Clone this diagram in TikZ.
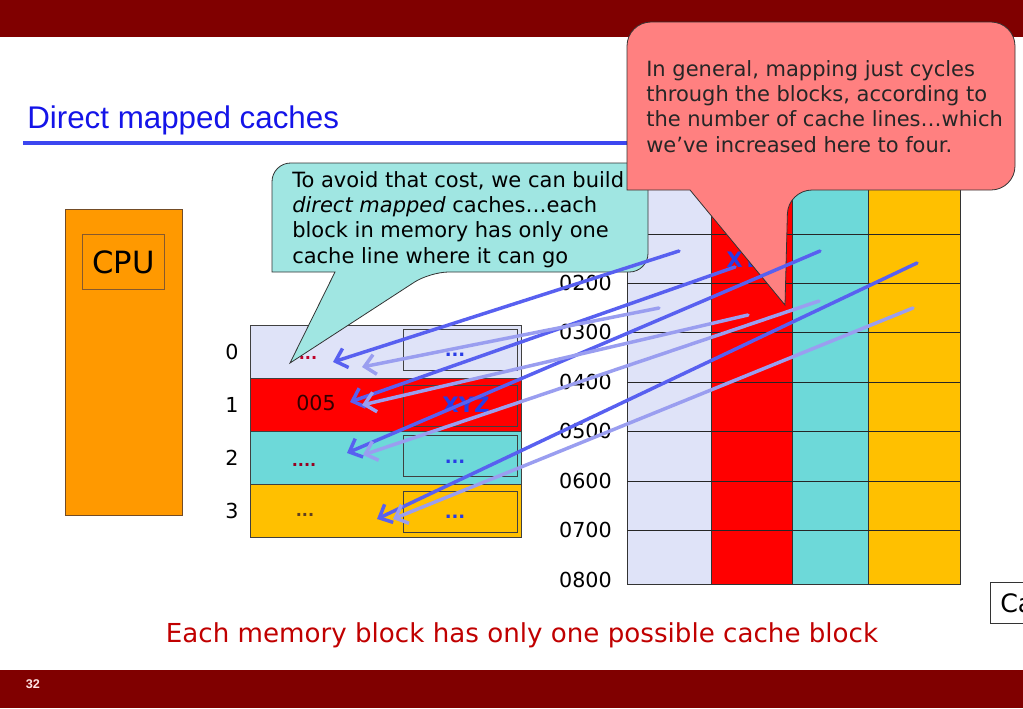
\documentclass[tikz,border=0pt]{standalone}
\usepackage{fontspec}
\setmainfont{DejaVu Sans}
\newfontfamily\titlefont{Liberation Sans}
\usetikzlibrary{arrows.meta}
\definecolor{barred}{RGB}{128,0,0}
\definecolor{titleblue}{RGB}{20,20,232}
\definecolor{lineblue}{RGB}{60,70,240}
\definecolor{lav}{RGB}{223,227,248}
\definecolor{cyanrow}{RGB}{109,217,217}
\definecolor{gold}{RGB}{255,192,0}
\definecolor{cpuorange}{RGB}{255,153,0}
\definecolor{callteal}{RGB}{160,230,226}
\definecolor{callpink}{RGB}{255,128,128}
\definecolor{darkarrow}{RGB}{88,96,240}
\definecolor{lightarrow}{RGB}{154,158,240}
\definecolor{dotblue}{RGB}{40,60,230}
\definecolor{dotred}{RGB}{190,0,40}
\definecolor{capred}{RGB}{192,0,0}
\begin{document}
\begin{tikzpicture}[x=0.75pt,y=-0.75pt]
	% Styles
	\tikzset{
		lbl/.style={font=\fontsize{15.5}{18}\selectfont, inner sep=0pt},
		bluedots/.style={font=\bfseries\fontsize{13.5}{15}\selectfont, text=dotblue, inner sep=0pt},
		bluebig/.style={bluedots, font=\bfseries\fontsize{16}{18}\selectfont},
		reddots/.style={font=\bfseries\fontsize{12}{14}\selectfont, inner sep=0pt},
		darkarr/.style={draw=darkarrow, line width=2.6pt, line cap=round, -{Straight Barb[length=8pt,width=15pt]}},
		lightarr/.style={darkarr, draw=lightarrow},
		calltext/.style={font=\fontsize{15.75}{19}\selectfont, align=left, inner sep=0pt, anchor=north west}
	}
	\useasboundingbox (0,0) rectangle (1023,708);
	\clip (0,0) rectangle (1023,708);

	% Draw the bars
	\fill[barred] (0,0) rectangle (1023,37);
	\fill[barred] (0,670) rectangle (1023,708);
	\node[font=\titlefont\bfseries\fontsize{9.5}{11}\selectfont, text=white!90!red] (pagenum) at (33,684) {32};

	% Title
	\node[anchor=base west, inner sep=0pt, font=\titlefont\fontsize{23.5}{28}\selectfont, text=titleblue] (title) at (27,128) {Direct mapped caches};
	\draw[lineblue, line width=2.3pt] (23,143) -- (1000,143);

	% CPU
	\filldraw[fill=cpuorange, draw=brown!60!black, line width=0.6pt] (65,209) rectangle (182,515);
	\node[draw=brown!70!black, line width=0.6pt, minimum width=62pt, minimum height=41pt, font=\fontsize{23}{27}\selectfont] (cpu) at (123.5,262) {CPU};

	% Cache lines
	\foreach \i/\col/\by in {0/lav/329,1/red/385,2/cyanrow/435,3/gold/491}{
		\filldraw[fill=\col, draw=black!75, line width=0.6pt] (250,325+53*\i) rectangle (521,378+53*\i);
		\draw[black!75, line width=0.6pt] (403,\by) rectangle (517,\by+41);
		\node[lbl] (idx\i) at (232,352+53*\i) {\i};
	}
	\node[reddots, text=dotred] (tag0) at (308,358) {...};
	\node[lbl, text=black!80!red] (tag1) at (316,403) {005};
	\node[reddots, text=dotred!80!black] (tag2) at (304,465) {....};
	\node[reddots, text=brown!50!black] (tag3) at (305,515) {...};
	\node[bluedots] (data0) at (455,355) {...};
	\node[bluebig] (data1) at (466,405) {XYZ};
	\node[bluedots] (data2) at (455,462) {...};
	\node[bluedots] (data3) at (455,517) {...};

	% Memory
	\foreach \x/\w/\col in {627/84/lav,711/81/red,792/76/cyanrow,868/92/gold}
		\filldraw[fill=\col, draw=black!80, line width=0.6pt] (\x,185) rectangle (\x+\w,584);
	\foreach \y in {234,283,332,382,431,481,530}
		\draw[black!85, line width=0.6pt] (627,\y) -- (960,\y);
	\foreach \n/\y in {0200/283,0300/332,0400/382,0500/431,0600/481,0700/530,0800/580}
		\node[lbl, anchor=east] (addr\n) at (612,\y) {\n};
	\node[bluebig] (memxyz) at (750,260) {XYZ};

	% Callouts
	\filldraw[fill=callteal, draw=black!80, line width=0.6pt] (382,163) [rounded corners=14] -- (648,163) -- (648,272) -- (430,272)
		[sharp corners] -- (290,363) -- (335,272) -- (272,272) [rounded corners=14] -- (272,163) -- cycle;
	\node[calltext] (tealnote) at (292,171) {To avoid that cost, we can build\\\textit{direct mapped} caches…each\\block in memory has only one\\cache line where it can go};
	\filldraw[fill=callpink, draw=black!80, line width=0.6pt] (820,22) [rounded corners=18] -- (1015,22) -- (1015,190) -- (788,190)
		[sharp corners] -- (785,305) -- (690,190) -- (627,190) [rounded corners=18] -- (627,22) -- cycle;
	\node[calltext, text=black!85] (pinknote) at (646,60) {In general, mapping just cycles\\through the blocks, according to\\the number of cache lines…which\\we’ve increased here to four.};

	% Mapping arrows
	\coordinate (srcd0) at (679,251); \coordinate (dstd0) at (333,362);
	\coordinate (srcd1) at (735,267); \coordinate (dstd1) at (350,402);
	\coordinate (srcd2) at (820,251); \coordinate (dstd2) at (347,453);
	\coordinate (srcd3) at (917,263); \coordinate (dstd3) at (377,519);
	\coordinate (srcl0) at (659,308); \coordinate (dstl0) at (362,367);
	\coordinate (srcl1) at (748,315); \coordinate (dstl1) at (362,405);
	\coordinate (srcl2) at (819,301); \coordinate (dstl2) at (363,455);
	\coordinate (srcl3) at (913,308); \coordinate (dstl3) at (393,519);
	\foreach \i in {0,...,3}
		\draw[darkarr] (srcd\i) -- (dstd\i);
	\foreach \i in {0,...,3}
		\draw[lightarr] (srcl\i) -- (dstl\i);

	% Caption and cut box
	\node[anchor=base, inner sep=0pt, font=\fontsize{19.6}{23}\selectfont, text=capred] (caption) at (522,642) {Each memory block has only one possible cache block};
	\draw[black!80, line width=0.6pt] (1030,582) -| (990,623) -- (1030,623);
	\node[anchor=base west, inner sep=0pt, font=\fontsize{19}{22}\selectfont] (cachebox) at (1000,612) {Ca};
\end{tikzpicture}
\end{document}
